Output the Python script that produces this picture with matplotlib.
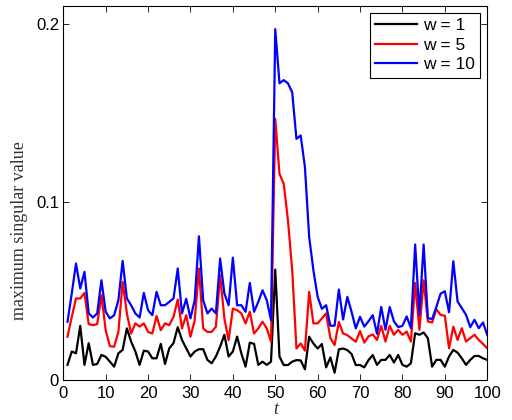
import numpy as np
import matplotlib
matplotlib.use("Agg")
import matplotlib.pyplot as plt

t = list(range(1, 101))

w1 = [0.0085, 0.0160, 0.0150, 0.0304, 0.0085, 0.0207, 0.0085, 0.0090, 0.0141, 0.0130,
      0.0103, 0.0075, 0.0150, 0.0169, 0.0290, 0.0216, 0.0160, 0.0085, 0.0165, 0.0160,
      0.0122, 0.0122, 0.0203, 0.0090, 0.0178, 0.0207, 0.0297, 0.0225, 0.0178, 0.0132,
      0.0160, 0.0173, 0.0173, 0.0113, 0.0094, 0.0132, 0.0188, 0.0254, 0.0132, 0.0160,
      0.0244, 0.0150, 0.0075, 0.0210, 0.0203, 0.0085, 0.0103, 0.0085, 0.0103, 0.0620,
      0.0131, 0.0084, 0.0084, 0.0103, 0.0112, 0.0110, 0.0060, 0.0243, 0.0205, 0.0177,
      0.0202, 0.0071, 0.0127, 0.0041, 0.0172, 0.0177, 0.0168, 0.0146, 0.0084, 0.0084,
      0.0071, 0.0112, 0.0140, 0.0085, 0.0113, 0.0113, 0.0141, 0.0098, 0.0141, 0.0085,
      0.0075, 0.0094, 0.0263, 0.0254, 0.0267, 0.0235, 0.0075, 0.0113, 0.0113, 0.0075,
      0.0132, 0.0169, 0.0154, 0.0122, 0.0085, 0.0113, 0.0135, 0.0135, 0.0122, 0.0113]

w5 = [0.0243, 0.0355, 0.0458, 0.0458, 0.0489, 0.0314, 0.0308, 0.0314, 0.0476, 0.0280,
      0.0190, 0.0187, 0.0270, 0.0551, 0.0374, 0.0261, 0.0318, 0.0300, 0.0318, 0.0270,
      0.0261, 0.0359, 0.0280, 0.0318, 0.0308, 0.0355, 0.0452, 0.0290, 0.0364, 0.0243,
      0.0336, 0.0626, 0.0290, 0.0270, 0.0270, 0.0300, 0.0588, 0.0346, 0.0224, 0.0401,
      0.0392, 0.0374, 0.0318, 0.0383, 0.0261, 0.0290, 0.0327, 0.0290, 0.0215, 0.1466,
      0.1158, 0.1102, 0.0896, 0.0616, 0.0177, 0.0205, 0.0165, 0.0495, 0.0318, 0.0318,
      0.0346, 0.0374, 0.0236, 0.0196, 0.0326, 0.0261, 0.0252, 0.0233, 0.0215, 0.0275,
      0.0210, 0.0245, 0.0256, 0.0225, 0.0304, 0.0216, 0.0304, 0.0254, 0.0282, 0.0254,
      0.0272, 0.0216, 0.0545, 0.0282, 0.0560, 0.0329, 0.0323, 0.0398, 0.0366, 0.0361,
      0.0178, 0.0300, 0.0225, 0.0291, 0.0216, 0.0235, 0.0254, 0.0225, 0.0203, 0.0178]

w10 = [0.0327, 0.0486, 0.0654, 0.0514, 0.0607, 0.0374, 0.0351, 0.0374, 0.0560, 0.0383,
       0.0346, 0.0364, 0.0448, 0.0669, 0.0458, 0.0420, 0.0374, 0.0351, 0.0489, 0.0392,
       0.0364, 0.0495, 0.0420, 0.0420, 0.0439, 0.0458, 0.0626, 0.0374, 0.0456, 0.0346,
       0.0448, 0.0807, 0.0448, 0.0374, 0.0401, 0.0374, 0.0682, 0.0486, 0.0420, 0.0687,
       0.0420, 0.0420, 0.0383, 0.0545, 0.0383, 0.0439, 0.0504, 0.0448, 0.0336, 0.1970,
       0.1666, 0.1684, 0.1666, 0.1615, 0.1354, 0.1373, 0.1195, 0.0803, 0.0616, 0.0467,
       0.0400, 0.0420, 0.0305, 0.0305, 0.0508, 0.0340, 0.0467, 0.0383, 0.0290, 0.0355,
       0.0300, 0.0330, 0.0364, 0.0260, 0.0410, 0.0282, 0.0410, 0.0329, 0.0297, 0.0304,
       0.0357, 0.0291, 0.0761, 0.0366, 0.0761, 0.0348, 0.0342, 0.0410, 0.0485, 0.0498,
       0.0380, 0.0667, 0.0441, 0.0404, 0.0366, 0.0297, 0.0338, 0.0291, 0.0323, 0.0254]

labels = ["w = 1", "w = 5", "w = 10"]
colors = ["black", "red", "blue"]

fig = plt.figure(figsize=(5.12, 4.2), dpi=100)
ax = fig.add_axes([0.1236, 0.0952, 0.828, 0.8905])

for y, lab, c in zip([w1, w5, w10], labels, colors):
    ax.plot(t, y, color=c, lw=1.6, label=lab)

ax.set_xlim(0, 100)
ax.set_ylim(0, 0.21)
ax.set_xticks(range(0, 101, 10))
ax.set_yticks([0, 0.1, 0.2])
ax.set_yticklabels(["0", "0.1", "0.2"])
ax.tick_params(direction="in", top=True, right=True, length=4, width=0.6,
               labelsize=12, pad=3)
ax.tick_params(axis="x", pad=4)
for lbl in ax.get_xticklabels() + ax.get_yticklabels():
    lbl.set_family("Liberation Sans")
for s in ax.spines.values():
    s.set_linewidth(0.8)

ax.set_ylabel("maximum singular value", family="Liberation Serif", fontsize=13,
              color="#303030")
ax.yaxis.set_label_coords(-0.083, 0.40)
ax.set_xlabel("t", family="Liberation Serif", style="italic", fontsize=13,
              color="#303030", labelpad=0)

leg = ax.legend(loc="upper right", prop={"family": "Liberation Sans", "size": 12.5},
                frameon=True, fancybox=False, edgecolor="black", framealpha=1,
                handlelength=2.4, borderpad=0.3, labelspacing=0.25, handletextpad=0.35,
                borderaxespad=0.4)
leg.get_frame().set_linewidth(0.8)

fig.savefig("out.png", dpi=100)
